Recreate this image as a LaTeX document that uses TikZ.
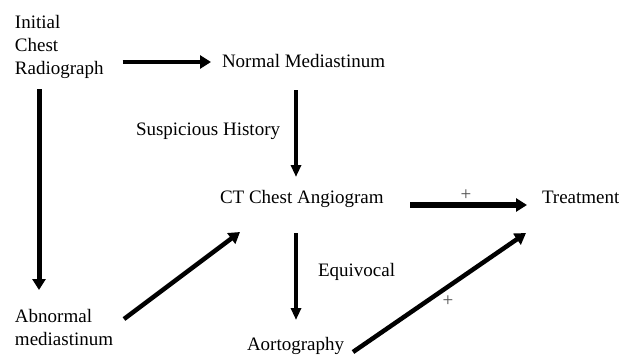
\documentclass[tikz,border=0pt]{standalone}
\usepackage{fontspec}
\setmainfont{Liberation Serif}
\usetikzlibrary{arrows.meta,calc}
\begin{document}
\begin{tikzpicture}[x=1pt,y=-1pt,
  lbl/.style={inner sep=0pt,outer sep=0pt,font=\fontsize{19}{23}\selectfont,text=black},
  multi/.style={lbl,align=left,anchor=north west},
  plusmark/.style={inner sep=0pt,font=\fontsize{19}{19}\selectfont,text=black!70},
  arr/.style={draw=black,line width=#1,-{Triangle[length=11pt,width=13pt]}},
  arrthin/.style={draw=black,line width=#1,-{Triangle[length=12pt,width=10pt]}}
]
\useasboundingbox (0,0) rectangle (619,356);
\fill[white] (0,0) rectangle (619,356);

\node[multi] (init) at (15,15) {Initial\\Chest\\Radiograph};
\node[lbl,anchor=base west] (nm) at (222,67) {Normal Mediastinum};
\node[lbl,anchor=base west] (susp) at (136,135) {Suspicious History};
\node[lbl,anchor=base west] (ct) at (220,203) {CT Chest Angiogram};
\node[lbl,anchor=base west] (trt) at (542,203) {Treatment};
\node[lbl,anchor=base west] (eq) at (318,276) {Equivocal};
\node[multi] (ab) at (15,309) {Abnormal\\mediastinum};
\node[lbl,anchor=base west] (ao) at (247,350) {Aortography};
\node[plusmark] (p1) at (466,195) {+};
\node[plusmark] (p2) at (448,301) {+};

% Initial -> Normal
\draw[arr=4.5pt] ($(init.north east)+(19,47)$) -- ($(nm.base west)+(-11,-5)$);
% Initial -> Abnormal
\draw[arr=5pt] ($(init.south west)+(24,11)$) -- ($(ab.north west)+(24,-19)$);
% Normal -> CT
\draw[arrthin=4pt] ($(nm.base west)+(74,23)$) -- ($(ct.base west)+(76,-26)$);
% CT -> Treatment
\draw[arr=6pt] ($(ct.base west)+(190,2)$) -- ($(trt.base west)+(-15,2)$);
% CT -> Aortography
\draw[arrthin=4pt] ($(ct.base west)+(76,30)$) -- ($(ao.base west)+(49,-30)$);
% Abnormal -> CT
\draw[arr=4.5pt] ($(ab.north west)+(109,10)$) -- ($(ct.base west)+(20,29)$);
% Aortography -> Treatment
\draw[arr=4.5pt] ($(ao.base west)+(106,2)$) -- ($(trt.base west)+(-16,30)$);
\end{tikzpicture}
\end{document}
